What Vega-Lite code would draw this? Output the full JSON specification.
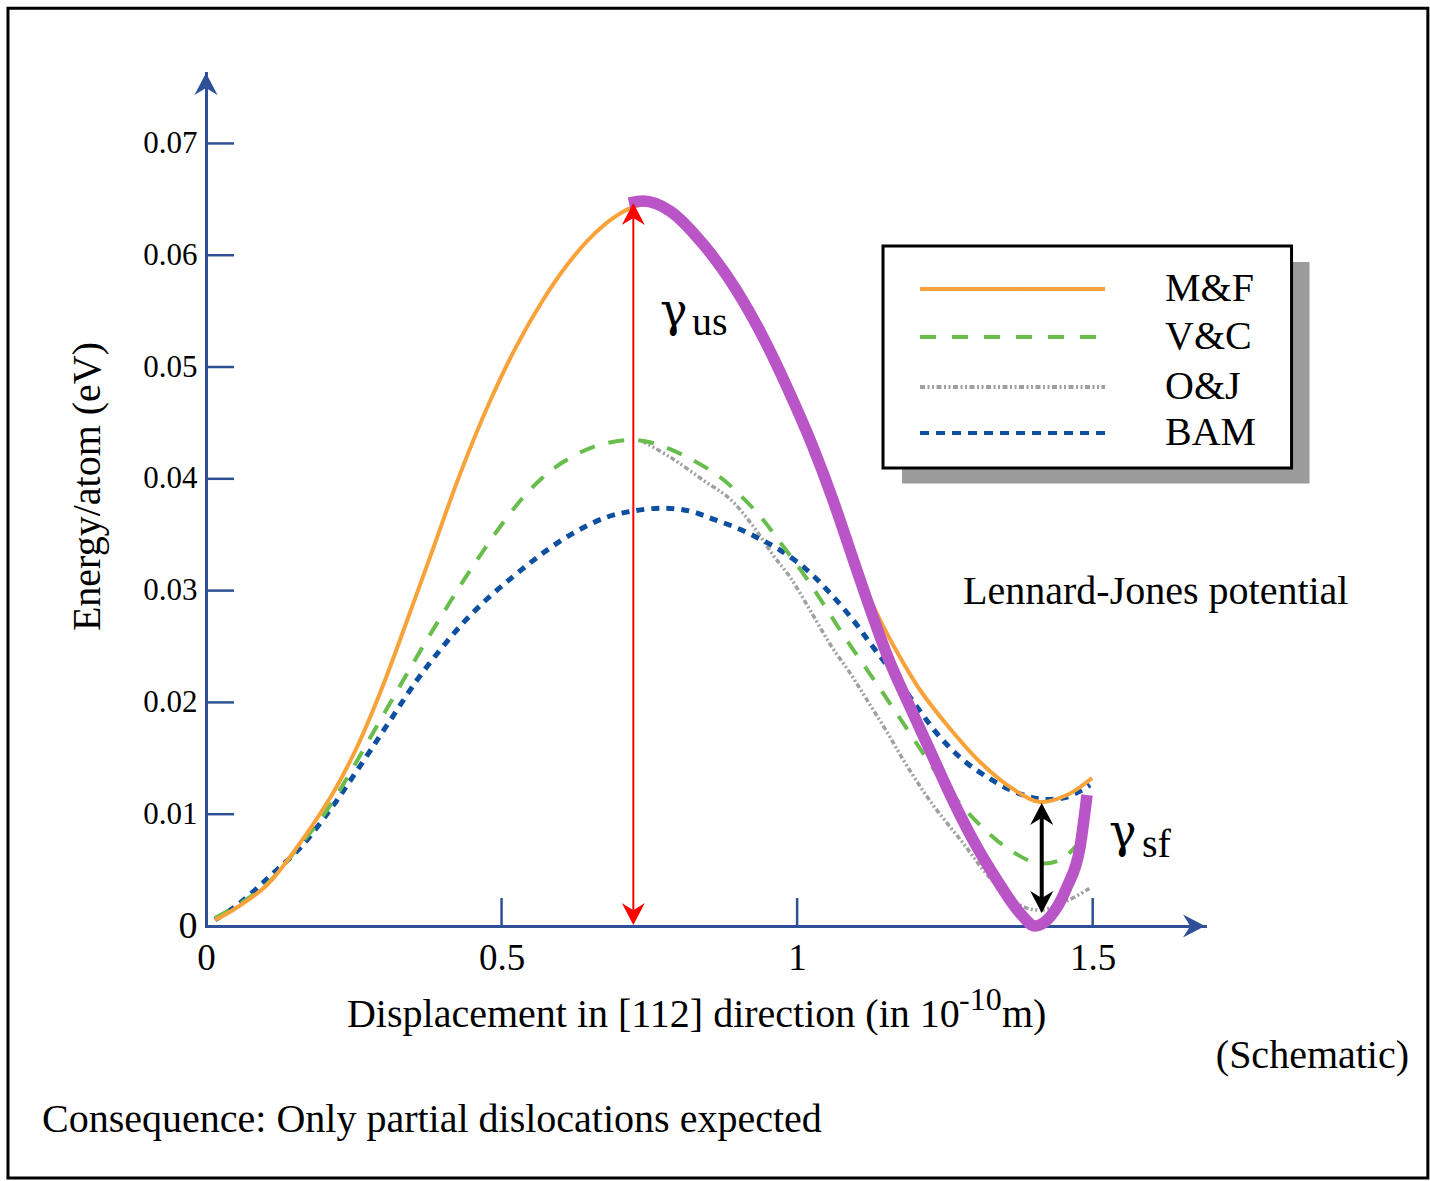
{
  "$schema": "https://vega.github.io/schema/vega-lite/v6.json",
  "width": 999,
  "height": 853,
  "autosize": {"type": "none"},
  "padding": {"left": 206, "top": 73, "right": 225, "bottom": 255},
  "background": "white",
  "config": {
    "view": {"stroke": null},
    "font": "Liberation Serif",
    "text": {"font": "Liberation Serif", "color": "black"}
  },
  "resolve": {
    "scale": {"color": "independent", "strokeDash": "independent", "strokeWidth": "independent", "shape": "independent"},
    "axis": {"x": "independent", "y": "independent"}
  },
  "datasets": {
    "one": [{"id": 1}],
    "curves": [
      {"series": "M&F", "x": 0.0152, "y": 0.00054},
      {"series": "M&F", "x": 0.0457, "y": 0.00143},
      {"series": "M&F", "x": 0.1032, "y": 0.00367},
      {"series": "M&F", "x": 0.1590, "y": 0.00742},
      {"series": "M&F", "x": 0.2149, "y": 0.01190},
      {"series": "M&F", "x": 0.2555, "y": 0.01601},
      {"series": "M&F", "x": 0.2944, "y": 0.02084},
      {"series": "M&F", "x": 0.3282, "y": 0.02558},
      {"series": "M&F", "x": 0.3790, "y": 0.03300},
      {"series": "M&F", "x": 0.4297, "y": 0.04042},
      {"series": "M&F", "x": 0.4805, "y": 0.04696},
      {"series": "M&F", "x": 0.5261, "y": 0.05196},
      {"series": "M&F", "x": 0.5701, "y": 0.05599},
      {"series": "M&F", "x": 0.6107, "y": 0.05912},
      {"series": "M&F", "x": 0.6496, "y": 0.06153},
      {"series": "M&F", "x": 0.6885, "y": 0.06332},
      {"series": "M&F", "x": 0.7224, "y": 0.06431},
      {"series": "M&F", "x": 0.7511, "y": 0.06457},
      {"series": "M&F", "x": 0.7850, "y": 0.06395},
      {"series": "M&F", "x": 0.8408, "y": 0.06100},
      {"series": "M&F", "x": 0.8983, "y": 0.05679},
      {"series": "M&F", "x": 0.9423, "y": 0.05268},
      {"series": "M&F", "x": 0.9829, "y": 0.04821},
      {"series": "M&F", "x": 1.0269, "y": 0.04284},
      {"series": "M&F", "x": 1.0607, "y": 0.03810},
      {"series": "M&F", "x": 1.0895, "y": 0.03381},
      {"series": "M&F", "x": 1.1183, "y": 0.02987},
      {"series": "M&F", "x": 1.1403, "y": 0.02737},
      {"series": "M&F", "x": 1.1690, "y": 0.02451},
      {"series": "M&F", "x": 1.2079, "y": 0.02111},
      {"series": "M&F", "x": 1.2536, "y": 0.01798},
      {"series": "M&F", "x": 1.3094, "y": 0.01467},
      {"series": "M&F", "x": 1.3653, "y": 0.01225},
      {"series": "M&F", "x": 1.4109, "y": 0.01109},
      {"series": "M&F", "x": 1.4566, "y": 0.01172},
      {"series": "M&F", "x": 1.4989, "y": 0.01324},

      {"series": "V&C", "x": 0.0152, "y": 0.00072},
      {"series": "V&C", "x": 0.0457, "y": 0.00161},
      {"series": "V&C", "x": 0.1032, "y": 0.00376},
      {"series": "V&C", "x": 0.1590, "y": 0.00724},
      {"series": "V&C", "x": 0.1878, "y": 0.00912},
      {"series": "V&C", "x": 0.2149, "y": 0.01118},
      {"series": "V&C", "x": 0.2436, "y": 0.01368},
      {"series": "V&C", "x": 0.2775, "y": 0.01681},
      {"series": "V&C", "x": 0.3164, "y": 0.02039},
      {"series": "V&C", "x": 0.3417, "y": 0.02272},
      {"series": "V&C", "x": 0.3705, "y": 0.02531},
      {"series": "V&C", "x": 0.3993, "y": 0.02782},
      {"series": "V&C", "x": 0.4297, "y": 0.03041},
      {"series": "V&C", "x": 0.4585, "y": 0.03273},
      {"series": "V&C", "x": 0.4923, "y": 0.03533},
      {"series": "V&C", "x": 0.5312, "y": 0.03801},
      {"series": "V&C", "x": 0.5650, "y": 0.03989},
      {"series": "V&C", "x": 0.6040, "y": 0.04150},
      {"series": "V&C", "x": 0.6547, "y": 0.04284},
      {"series": "V&C", "x": 0.7122, "y": 0.04347},
      {"series": "V&C", "x": 0.7562, "y": 0.04320},
      {"series": "V&C", "x": 0.8137, "y": 0.04195},
      {"series": "V&C", "x": 0.8696, "y": 0.04016},
      {"series": "V&C", "x": 0.8983, "y": 0.03882},
      {"series": "V&C", "x": 0.9372, "y": 0.03667},
      {"series": "V&C", "x": 0.9711, "y": 0.03434},
      {"series": "V&C", "x": 1.0049, "y": 0.03193},
      {"series": "V&C", "x": 1.0337, "y": 0.02969},
      {"series": "V&C", "x": 1.0607, "y": 0.02746},
      {"series": "V&C", "x": 1.0895, "y": 0.02513},
      {"series": "V&C", "x": 1.1233, "y": 0.02254},
      {"series": "V&C", "x": 1.1521, "y": 0.02030},
      {"series": "V&C", "x": 1.1792, "y": 0.01816},
      {"series": "V&C", "x": 1.2130, "y": 0.01547},
      {"series": "V&C", "x": 1.2417, "y": 0.01324},
      {"series": "V&C", "x": 1.2705, "y": 0.01127},
      {"series": "V&C", "x": 1.3094, "y": 0.00903},
      {"series": "V&C", "x": 1.3551, "y": 0.00698},
      {"series": "V&C", "x": 1.4059, "y": 0.00563},
      {"series": "V&C", "x": 1.4448, "y": 0.00590},
      {"series": "V&C", "x": 1.4735, "y": 0.00724},

      {"series": "O&J", "x": 0.7376, "y": 0.04338},
      {"series": "O&J", "x": 0.7850, "y": 0.04195},
      {"series": "O&J", "x": 0.8408, "y": 0.03989},
      {"series": "O&J", "x": 0.8865, "y": 0.03819},
      {"series": "O&J", "x": 0.9254, "y": 0.03578},
      {"series": "O&J", "x": 0.9592, "y": 0.03318},
      {"series": "O&J", "x": 0.9880, "y": 0.03121},
      {"series": "O&J", "x": 1.0218, "y": 0.02826},
      {"series": "O&J", "x": 1.0556, "y": 0.02522},
      {"series": "O&J", "x": 1.0895, "y": 0.02263},
      {"series": "O&J", "x": 1.1183, "y": 0.02021},
      {"series": "O&J", "x": 1.1521, "y": 0.01735},
      {"series": "O&J", "x": 1.1859, "y": 0.01431},
      {"series": "O&J", "x": 1.2299, "y": 0.01082},
      {"series": "O&J", "x": 1.2807, "y": 0.00742},
      {"series": "O&J", "x": 1.3264, "y": 0.00429},
      {"series": "O&J", "x": 1.3771, "y": 0.00188},
      {"series": "O&J", "x": 1.4109, "y": 0.00143},
      {"series": "O&J", "x": 1.4566, "y": 0.00224},
      {"series": "O&J", "x": 1.4955, "y": 0.00340},

      {"series": "BAM", "x": 0.0152, "y": 0.00054},
      {"series": "BAM", "x": 0.0575, "y": 0.00206},
      {"series": "BAM", "x": 0.1083, "y": 0.00447},
      {"series": "BAM", "x": 0.1590, "y": 0.00698},
      {"series": "BAM", "x": 0.2098, "y": 0.01037},
      {"series": "BAM", "x": 0.2436, "y": 0.01297},
      {"series": "BAM", "x": 0.2775, "y": 0.01565},
      {"series": "BAM", "x": 0.3164, "y": 0.01878},
      {"series": "BAM", "x": 0.3570, "y": 0.02200},
      {"series": "BAM", "x": 0.3959, "y": 0.02468},
      {"series": "BAM", "x": 0.4348, "y": 0.02710},
      {"series": "BAM", "x": 0.4754, "y": 0.02925},
      {"series": "BAM", "x": 0.5143, "y": 0.03103},
      {"series": "BAM", "x": 0.5481, "y": 0.03247},
      {"series": "BAM", "x": 0.5820, "y": 0.03381},
      {"series": "BAM", "x": 0.6276, "y": 0.03533},
      {"series": "BAM", "x": 0.6784, "y": 0.03658},
      {"series": "BAM", "x": 0.7224, "y": 0.03712},
      {"series": "BAM", "x": 0.7731, "y": 0.03738},
      {"series": "BAM", "x": 0.8188, "y": 0.03712},
      {"series": "BAM", "x": 0.8577, "y": 0.03640},
      {"series": "BAM", "x": 0.8983, "y": 0.03560},
      {"series": "BAM", "x": 0.9372, "y": 0.03461},
      {"series": "BAM", "x": 0.9711, "y": 0.03363},
      {"series": "BAM", "x": 1.0168, "y": 0.03184},
      {"series": "BAM", "x": 1.0556, "y": 0.02978},
      {"series": "BAM", "x": 1.0946, "y": 0.02737},
      {"series": "BAM", "x": 1.1284, "y": 0.02495},
      {"series": "BAM", "x": 1.1622, "y": 0.02263},
      {"series": "BAM", "x": 1.2028, "y": 0.01959},
      {"series": "BAM", "x": 1.2417, "y": 0.01690},
      {"series": "BAM", "x": 1.2807, "y": 0.01485},
      {"series": "BAM", "x": 1.3213, "y": 0.01333},
      {"series": "BAM", "x": 1.3653, "y": 0.01207},
      {"series": "BAM", "x": 1.4109, "y": 0.01136},
      {"series": "BAM", "x": 1.4566, "y": 0.01154},
      {"series": "BAM", "x": 1.4955, "y": 0.01261},

      {"series": "LJ", "x": 0.7156, "y": 0.06466},
      {"series": "LJ", "x": 0.7393, "y": 0.06484},
      {"series": "LJ", "x": 0.7850, "y": 0.06395},
      {"series": "LJ", "x": 0.8408, "y": 0.06100},
      {"series": "LJ", "x": 0.8983, "y": 0.05679},
      {"series": "LJ", "x": 0.9423, "y": 0.05268},
      {"series": "LJ", "x": 0.9829, "y": 0.04821},
      {"series": "LJ", "x": 1.0269, "y": 0.04284},
      {"series": "LJ", "x": 1.0607, "y": 0.03810},
      {"series": "LJ", "x": 1.0895, "y": 0.03363},
      {"series": "LJ", "x": 1.1183, "y": 0.02916},
      {"series": "LJ", "x": 1.1521, "y": 0.02424},
      {"series": "LJ", "x": 1.1910, "y": 0.01959},
      {"series": "LJ", "x": 1.2299, "y": 0.01511},
      {"series": "LJ", "x": 1.2536, "y": 0.01234},
      {"series": "LJ", "x": 1.2976, "y": 0.00769},
      {"series": "LJ", "x": 1.3382, "y": 0.00411},
      {"series": "LJ", "x": 1.3771, "y": 0.00116},
      {"series": "LJ", "x": 1.4025, "y": 0.00000},
      {"series": "LJ", "x": 1.4278, "y": 0.00080},
      {"series": "LJ", "x": 1.4566, "y": 0.00349},
      {"series": "LJ", "x": 1.4786, "y": 0.00707},
      {"series": "LJ", "x": 1.4904, "y": 0.01172}
    ],
    "keys": [
      {"series": "M&F", "y": 0.05697},
      {"series": "V&C", "y": 0.05268},
      {"series": "O&J", "y": 0.04821},
      {"series": "BAM", "y": 0.04409}
    ],
    "ticks": [
      {"axis": "x", "v": 0.5}, {"axis": "x", "v": 1}, {"axis": "x", "v": 1.5},
      {"axis": "y", "v": 0.01}, {"axis": "y", "v": 0.02}, {"axis": "y", "v": 0.03},
      {"axis": "y", "v": 0.04}, {"axis": "y", "v": 0.05}, {"axis": "y", "v": 0.06},
      {"axis": "y", "v": 0.07}
    ],
    "arrows": [
      {"kind": "red", "x": 0.7229, "lo": 0.0008, "hi": 0.0640},
      {"kind": "black", "x": 1.4138, "lo": 0.0016, "hi": 0.0106}
    ],
    "heads": [
      {"kind": "axis", "dir": "up", "x": 0, "y": 0.07531},
      {"kind": "axis", "dir": "right", "x": 1.6714, "y": 0},
      {"kind": "red", "dir": "up", "x": 0.7229, "y": 0.06368},
      {"kind": "red", "dir": "down", "x": 0.7229, "y": 0.00107},
      {"kind": "black", "dir": "up", "x": 1.4138, "y": 0.01002},
      {"kind": "black", "dir": "down", "x": 1.4138, "y": 0.00215}
    ]
  },
  "data": {"name": "one"},
  "layer": [
    {
      "mark": {"type": "rect", "fill": "transparent", "stroke": "black", "strokeWidth": 3},
      "encoding": {
        "x": {"datum": -0.335, "type": "quantitative", "scale": {"domain": [0, 1.69], "nice": false, "zero": false}, "axis": null},
        "x2": {"datum": 2.067},
        "y": {"datum": 0.0821, "type": "quantitative", "scale": {"domain": [0, 0.0763], "nice": false, "zero": false}, "axis": null},
        "y2": {"datum": -0.02254}
      }
    },
    {
      "mark": {"type": "rect", "fill": "#9b9b9b"},
      "encoding": {
        "x": {"datum": 1.1775, "type": "quantitative", "scale": {"domain": [0, 1.69], "nice": false, "zero": false}, "axis": null},
        "x2": {"datum": 1.8668},
        "y": {"datum": 0.05939, "type": "quantitative", "scale": {"domain": [0, 0.0763], "nice": false, "zero": false}, "axis": null},
        "y2": {"datum": 0.03958}
      }
    },
    {
      "mark": {"type": "rect", "fill": "white", "stroke": "black", "strokeWidth": 3},
      "encoding": {
        "x": {"datum": 1.1453, "type": "quantitative", "scale": {"domain": [0, 1.69], "nice": false, "zero": false}, "axis": null},
        "x2": {"datum": 1.8364},
        "y": {"datum": 0.06082, "type": "quantitative", "scale": {"domain": [0, 0.0763], "nice": false, "zero": false}, "axis": null},
        "y2": {"datum": 0.04096}
      }
    },
    {
      "data": {"name": "ticks"},
      "transform": [{"filter": "datum.axis === 'x'"}],
      "mark": {"type": "rule", "color": "#2F5096", "strokeWidth": 2.5},
      "encoding": {
        "x": {"field": "v", "type": "quantitative", "scale": {"domain": [0, 1.69], "nice": false, "zero": false}, "axis": null},
        "y": {"datum": 0, "type": "quantitative", "scale": {"domain": [0, 0.0763], "nice": false, "zero": false}, "axis": null},
        "y2": {"datum": 0.0025}
      }
    },
    {
      "data": {"name": "ticks"},
      "transform": [{"filter": "datum.axis === 'y'"}],
      "mark": {"type": "rule", "color": "#2F5096", "strokeWidth": 2.5},
      "encoding": {
        "y": {"field": "v", "type": "quantitative", "scale": {"domain": [0, 0.0763], "nice": false, "zero": false}, "axis": null},
        "x": {"datum": 0, "type": "quantitative", "scale": {"domain": [0, 1.69], "nice": false, "zero": false}, "axis": null},
        "x2": {"datum": 0.0474}
      }
    },
    {
      "data": {"name": "curves"},
      "transform": [{"filter": "datum.series === 'O&J'"}],
      "mark": {"type": "line", "color": "#A0A0A0", "strokeWidth": 3.5, "strokeDash": [5, 2.5, 2, 2.5, 2, 2.5], "interpolate": "catmull-rom"},
      "encoding": {
        "x": {"field": "x", "type": "quantitative", "scale": {"domain": [0, 1.69], "nice": false, "zero": false}, "axis": null},
        "y": {"field": "y", "type": "quantitative", "scale": {"domain": [0, 0.0763], "nice": false, "zero": false}, "axis": null}
      }
    },
    {
      "data": {"name": "curves"},
      "transform": [{"filter": "datum.series === 'BAM'"}],
      "mark": {"type": "line", "color": "#0D4FA1", "strokeWidth": 5, "strokeDash": [8, 7], "interpolate": "catmull-rom"},
      "encoding": {
        "x": {"field": "x", "type": "quantitative", "scale": {"domain": [0, 1.69], "nice": false, "zero": false}, "axis": null},
        "y": {"field": "y", "type": "quantitative", "scale": {"domain": [0, 0.0763], "nice": false, "zero": false}, "axis": null}
      }
    },
    {
      "data": {"name": "curves"},
      "transform": [{"filter": "datum.series === 'V&C'"}],
      "mark": {"type": "line", "color": "#68BD4C", "strokeWidth": 4, "strokeDash": [16, 14], "interpolate": "catmull-rom"},
      "encoding": {
        "x": {"field": "x", "type": "quantitative", "scale": {"domain": [0, 1.69], "nice": false, "zero": false}, "axis": null},
        "y": {"field": "y", "type": "quantitative", "scale": {"domain": [0, 0.0763], "nice": false, "zero": false}, "axis": null}
      }
    },
    {
      "data": {"name": "curves"},
      "transform": [{"filter": "datum.series === 'M&F'"}],
      "mark": {"type": "line", "color": "#F9A23A", "strokeWidth": 4, "interpolate": "catmull-rom"},
      "encoding": {
        "x": {
          "field": "x", "type": "quantitative",
          "scale": {"domain": [0, 1.69], "nice": false, "zero": false},
          "axis": {
            "values": [0, 0.5, 1, 1.5], "format": "~g", "title": null,
            "ticks": false, "grid": false,
            "domainColor": "#2F5096", "domainWidth": 3, "domainCap": "square",
            "labelFont": "Liberation Serif", "labelFontSize": 37, "labelColor": "black",
            "labelPadding": 14, "labelFlush": false, "labelOverlap": false
          }
        },
        "y": {
          "field": "y", "type": "quantitative",
          "scale": {"domain": [0, 0.0763], "nice": false, "zero": false},
          "axis": {
            "values": [0, 0.01, 0.02, 0.03, 0.04, 0.05, 0.06, 0.07], "format": "~g", "title": null,
            "ticks": false, "grid": false,
            "domainColor": "#2F5096", "domainWidth": 3, "domainCap": "square",
            "labelFont": "Liberation Serif",
            "labelFontSize": {"condition": {"test": "datum.value === 0", "value": 38}, "value": 31},
            "labelColor": "black",
            "labelPadding": 9, "labelFlush": false, "labelOverlap": false
          }
        }
      }
    },
    {
      "data": {"name": "curves"},
      "transform": [{"filter": "datum.series === 'LJ'"}],
      "mark": {"type": "line", "color": "#B955C6", "strokeWidth": 11.5, "interpolate": "monotone", "strokeJoin": "round"},
      "encoding": {
        "x": {"field": "x", "type": "quantitative", "scale": {"domain": [0, 1.69], "nice": false, "zero": false}, "axis": null},
        "y": {"field": "y", "type": "quantitative", "scale": {"domain": [0, 0.0763], "nice": false, "zero": false}, "axis": null}
      }
    },
    {
      "data": {"name": "keys"},
      "mark": {"type": "rule"},
      "encoding": {
        "x": {"datum": 1.2079, "type": "quantitative", "scale": {"domain": [0, 1.69], "nice": false, "zero": false}, "axis": null},
        "x2": {"datum": 1.5209},
        "y": {"field": "y", "type": "quantitative", "scale": {"domain": [0, 0.0763], "nice": false, "zero": false}, "axis": null},
        "color": {"field": "series", "type": "nominal", "scale": {"domain": ["M&F", "V&C", "O&J", "BAM"], "range": ["#F9A23A", "#68BD4C", "#A0A0A0", "#0D4FA1"]}, "legend": null},
        "strokeDash": {"field": "series", "type": "nominal", "scale": {"domain": ["M&F", "V&C", "O&J", "BAM"], "range": [[1, 0], [16, 16], [5, 2.5, 2, 2.5, 2, 2.5], [9, 7]]}, "legend": null},
        "strokeWidth": {"field": "series", "type": "nominal", "scale": {"domain": ["M&F", "V&C", "O&J", "BAM"], "range": [4, 4, 3.5, 5]}, "legend": null}
      }
    },
    {
      "data": {"name": "keys"},
      "mark": {"type": "text", "fontSize": 40, "align": "left", "baseline": "middle"},
      "encoding": {
        "x": {"datum": 1.6224, "type": "quantitative", "scale": {"domain": [0, 1.69], "nice": false, "zero": false}, "axis": null},
        "y": {"field": "y", "type": "quantitative", "scale": {"domain": [0, 0.0763], "nice": false, "zero": false}, "axis": null},
        "text": {"field": "series"}
      }
    },
    {
      "data": {"name": "arrows"},
      "mark": {"type": "rule"},
      "encoding": {
        "x": {"field": "x", "type": "quantitative", "scale": {"domain": [0, 1.69], "nice": false, "zero": false}, "axis": null},
        "y": {"field": "lo", "type": "quantitative", "scale": {"domain": [0, 0.0763], "nice": false, "zero": false}, "axis": null},
        "y2": {"field": "hi"},
        "color": {"field": "kind", "type": "nominal", "scale": {"domain": ["red", "black"], "range": ["#FF0000", "#000000"]}, "legend": null},
        "strokeWidth": {"field": "kind", "type": "nominal", "scale": {"domain": ["red", "black"], "range": [2, 4]}, "legend": null}
      }
    },
    {
      "data": {"name": "heads"},
      "mark": {"type": "point", "filled": true, "opacity": 1, "size": 484, "strokeWidth": 0},
      "encoding": {
        "x": {"field": "x", "type": "quantitative", "scale": {"domain": [0, 1.69], "nice": false, "zero": false}, "axis": null},
        "y": {"field": "y", "type": "quantitative", "scale": {"domain": [0, 0.0763], "nice": false, "zero": false}, "axis": null},
        "shape": {"field": "dir", "type": "nominal", "scale": {"domain": ["up", "down", "right"], "range": ["M0,-1L1.05,1L0,0.35L-1.05,1Z", "M0,1L1.05,-1L0,-0.35L-1.05,-1Z", "M1,0L-1,1.05L-0.35,0L-1,-1.05Z"]}, "legend": null},
        "color": {"field": "kind", "type": "nominal", "scale": {"domain": ["axis", "red", "black"], "range": ["#2F5096", "#FF0000", "#000000"]}, "legend": null}
      }
    },
    {
      "mark": {"type": "text", "text": "Energy/atom (eV)", "fontSize": 40, "angle": 270, "align": "center", "baseline": "middle"},
      "encoding": {
        "x": {"datum": -0.1996, "type": "quantitative", "scale": {"domain": [0, 1.69], "nice": false, "zero": false}, "axis": null},
        "y": {"datum": 0.03931, "type": "quantitative", "scale": {"domain": [0, 0.0763], "nice": false, "zero": false}, "axis": null}
      }
    },
    {
      "mark": {"type": "text", "text": "Displacement in [112] direction (in 10", "fontSize": 40, "align": "left", "baseline": "alphabetic"},
      "encoding": {
        "x": {"datum": 0.2385, "type": "quantitative", "scale": {"domain": [0, 1.69], "nice": false, "zero": false}, "axis": null},
        "y": {"datum": -0.00903, "type": "quantitative", "scale": {"domain": [0, 0.0763], "nice": false, "zero": false}, "axis": null}
      }
    },
    {
      "mark": {"type": "text", "text": "-10", "fontSize": 32, "align": "left", "baseline": "alphabetic"},
      "encoding": {
        "x": {"datum": 1.2739, "type": "quantitative", "scale": {"domain": [0, 1.69], "nice": false, "zero": false}, "axis": null},
        "y": {"datum": -0.00751, "type": "quantitative", "scale": {"domain": [0, 0.0763], "nice": false, "zero": false}, "axis": null}
      }
    },
    {
      "mark": {"type": "text", "text": "m)", "fontSize": 40, "align": "left", "baseline": "alphabetic"},
      "encoding": {
        "x": {"datum": 1.3466, "type": "quantitative", "scale": {"domain": [0, 1.69], "nice": false, "zero": false}, "axis": null},
        "y": {"datum": -0.00903, "type": "quantitative", "scale": {"domain": [0, 0.0763], "nice": false, "zero": false}, "axis": null}
      }
    },
    {
      "mark": {"type": "text", "text": "(Schematic)", "fontSize": 40, "align": "right", "baseline": "alphabetic"},
      "encoding": {
        "x": {"datum": 2.0352, "type": "quantitative", "scale": {"domain": [0, 1.69], "nice": false, "zero": false}, "axis": null},
        "y": {"datum": -0.01270, "type": "quantitative", "scale": {"domain": [0, 0.0763], "nice": false, "zero": false}, "axis": null}
      }
    },
    {
      "mark": {"type": "text", "text": "Consequence: Only partial dislocations expected", "fontSize": 40, "align": "left", "baseline": "alphabetic"},
      "encoding": {
        "x": {"datum": -0.2774, "type": "quantitative", "scale": {"domain": [0, 1.69], "nice": false, "zero": false}, "axis": null},
        "y": {"datum": -0.01842, "type": "quantitative", "scale": {"domain": [0, 0.0763], "nice": false, "zero": false}, "axis": null}
      }
    },
    {
      "mark": {"type": "text", "text": "Lennard-Jones potential", "fontSize": 40, "align": "left", "baseline": "alphabetic"},
      "encoding": {
        "x": {"datum": 1.2807, "type": "quantitative", "scale": {"domain": [0, 1.69], "nice": false, "zero": false}, "axis": null},
        "y": {"datum": 0.02880, "type": "quantitative", "scale": {"domain": [0, 0.0763], "nice": false, "zero": false}, "axis": null}
      }
    },
    {
      "mark": {"type": "text", "text": "γ", "font": "DejaVu Serif", "fontSize": 46, "align": "left", "baseline": "alphabetic"},
      "encoding": {
        "x": {"datum": 0.7680, "type": "quantitative", "scale": {"domain": [0, 1.69], "nice": false, "zero": false}, "axis": null},
        "y": {"datum": 0.05366, "type": "quantitative", "scale": {"domain": [0, 0.0763], "nice": false, "zero": false}, "axis": null}
      }
    },
    {
      "mark": {"type": "text", "text": "us", "fontSize": 40, "align": "left", "baseline": "alphabetic"},
      "encoding": {
        "x": {"datum": 0.8222, "type": "quantitative", "scale": {"domain": [0, 1.69], "nice": false, "zero": false}, "axis": null},
        "y": {"datum": 0.05286, "type": "quantitative", "scale": {"domain": [0, 0.0763], "nice": false, "zero": false}, "axis": null}
      }
    },
    {
      "mark": {"type": "text", "text": "γ", "font": "DejaVu Serif", "fontSize": 46, "align": "left", "baseline": "alphabetic"},
      "encoding": {
        "x": {"datum": 1.5276, "type": "quantitative", "scale": {"domain": [0, 1.69], "nice": false, "zero": false}, "axis": null},
        "y": {"datum": 0.00707, "type": "quantitative", "scale": {"domain": [0, 0.0763], "nice": false, "zero": false}, "axis": null}
      }
    },
    {
      "mark": {"type": "text", "text": "sf", "fontSize": 40, "align": "left", "baseline": "alphabetic"},
      "encoding": {
        "x": {"datum": 1.5835, "type": "quantitative", "scale": {"domain": [0, 1.69], "nice": false, "zero": false}, "axis": null},
        "y": {"datum": 0.00617, "type": "quantitative", "scale": {"domain": [0, 0.0763], "nice": false, "zero": false}, "axis": null}
      }
    }
  ]
}
